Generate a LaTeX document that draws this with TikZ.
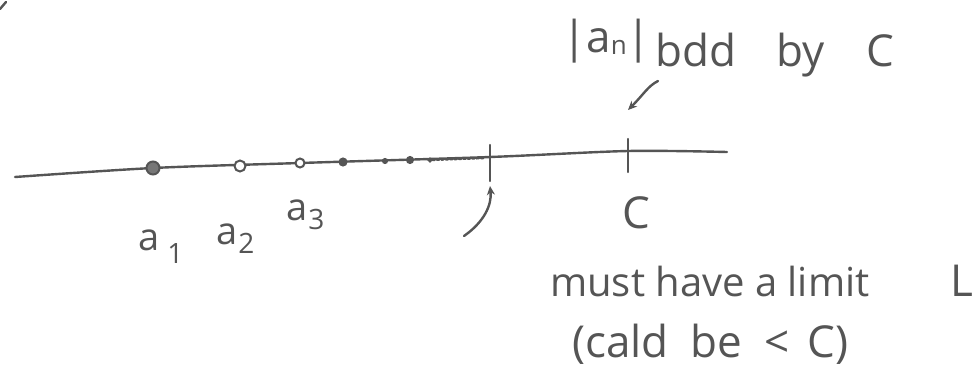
\documentclass[tikz,border=0pt]{standalone}
\usepackage{fontspec}
\setmainfont{Open Sans}
\usetikzlibrary{arrows.meta}
\definecolor{ink}{HTML}{555555}
\begin{document}
\begin{tikzpicture}[x=1pt,y=-1pt,
  ink line/.style={draw=ink,line width=2.4pt,line cap=round,line join=round},
  hand/.style={text=ink,inner sep=0pt,font=\fontsize{44}{48}\selectfont},
  label hand/.style={text=ink,inner sep=0pt,font=\fontsize{38}{42}\selectfont},
  seqdot/.style={circle,draw=ink,line width=2pt,inner sep=0pt},
  tip/.style={-{Stealth[length=9pt,width=8pt]}}]
\useasboundingbox (0,0) rectangle (980,381);
% stray mark in corner
\draw[ink line] (0,9) -- (6,2);
% number line
\draw[ink line] plot[smooth,tension=0.5] coordinates {(15,177) (153,168) (300,163) (490,157) (628,151) (727,152)};
% sequence points
\node[seqdot,fill=ink!80,minimum size=13pt] (p1) at (153,168) {};
\node[seqdot,fill=white,minimum size=11pt] (p2) at (240,166) {};
\node[seqdot,fill=white,minimum width=7pt,minimum height=9pt] (p3) at (300,163) {};
\node[seqdot,fill=ink,minimum width=4pt,minimum height=7pt] (p4) at (343,162) {};
\node[seqdot,fill=ink,minimum size=4pt] (p5) at (385,161) {};
\node[seqdot,fill=ink,minimum width=4pt,minimum height=6pt] (p6) at (410,160) {};
\node[seqdot,fill=ink,minimum size=3pt] (p7) at (430,160) {};
\draw[ink line,dotted] (p7) -- (485,158);
% ticks
\coordinate (Ltop) at (490,145);
\coordinate (Lbot) at (490,181);
\draw[ink line] (Ltop) -- (Lbot);
\coordinate (Ctop) at (628,139);
\coordinate (Cbot) at (628,172);
\draw[ink line] (Ctop) -- (Cbot);
% labels under points
\node[label hand,anchor=base west] (la1) at (138,250) {a\hspace{8pt}\raisebox{-13pt}{\fontsize{28}{30}\selectfont 1}};
\node[label hand,anchor=base west] (la2) at (216,244) {a\hspace{1pt}\raisebox{-9pt}{\fontsize{28}{30}\selectfont 2}};
\node[label hand,anchor=base west] (la3) at (286,220) {a\hspace{1pt}\raisebox{-9pt}{\fontsize{28}{30}\selectfont 3}};
\node[hand,anchor=base west] (lC) at (622,228) {C};
% limit text
\node[hand,anchor=base west,font=\fontsize{40}{44}\selectfont] (must) at (550,296) {must have a limit};
\node[hand,anchor=base west] (L) at (950,296) {L};
\node[hand,anchor=base west] (could) at (572,357) {(cald\hspace{22pt}be\hspace{22pt}<\hspace{18pt}C)};
\coordinate (limstart) at (464,236);
\draw[ink line,tip] (limstart) .. controls (484,222) and (492,205) .. (Lbot |- 0,186);
% bounded text
\node[hand,anchor=base west] (an) at (562,52) {|a\raisebox{-2pt}{\fontsize{26}{28}\selectfont n}|};
\node[hand,anchor=base west] (bdd) at (655,66) {bdd\hspace{40pt}by\hspace{42pt}C};
\coordinate (bddstart) at (658,81);
\draw[ink line,tip] (bddstart) .. controls (648,86) and (644,94) .. (Cbot |- 0,110);
\end{tikzpicture}
\end{document}
